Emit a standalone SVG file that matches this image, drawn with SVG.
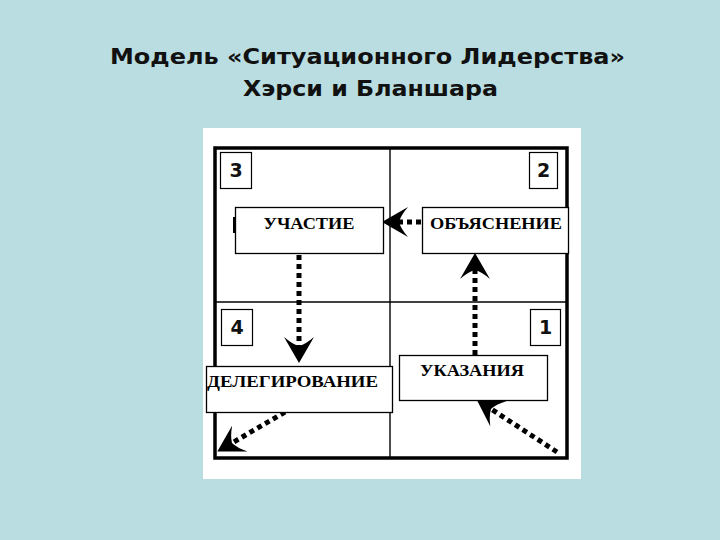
<svg xmlns="http://www.w3.org/2000/svg" width="720" height="540" viewBox="0 0 720 540">
<style>
.title{font-family:"DejaVu Sans","Liberation Sans",sans-serif;font-weight:bold;font-size:21px;fill:#111;text-anchor:middle}
.box{fill:#fff;stroke:#000;stroke-width:1.3}
.num{fill:#fff;stroke:#000;stroke-width:1.2}
.numt{font-family:"DejaVu Sans","Liberation Sans",sans-serif;font-weight:bold;font-size:19px;fill:#111;text-anchor:middle}
.lbl{font-family:"Liberation Serif","Times New Roman",serif;font-weight:bold;font-size:17px;fill:#000;text-anchor:middle}
.dot{stroke:#000;stroke-width:5;stroke-dasharray:5 4;fill:none}
.grid{stroke:#000;stroke-width:1.4}
</style>
<defs>
<marker id="ah" viewBox="0 0 26 30" refX="9" refY="15" markerWidth="26" markerHeight="30" markerUnits="userSpaceOnUse" orient="auto">
<path d="M26,15 L0,0 Q7,8 9,15 Q7,22 0,30 Z" fill="#000"/>
</marker>
</defs>
<rect x="0" y="0" width="720" height="540" fill="#b9dde0"/>
<text class="title" x="367.5" y="64" textLength="515" lengthAdjust="spacingAndGlyphs">Модель «Ситуационного Лидерства»</text>
<text class="title" x="370.5" y="96" textLength="255" lengthAdjust="spacingAndGlyphs">Хэрси и Бланшара</text>
<rect x="203" y="128" width="378" height="351" fill="#fff"/>
<g id="frame">
<line class="grid" x1="390" y1="148" x2="390" y2="458"/>
<line class="grid" x1="215" y1="302" x2="567" y2="302"/>
<path d="M215,148 H567 V458 H215 Z" fill="none" stroke="#000" stroke-width="3.5"/>
</g>
<g id="q3"><rect class="num" x="220.5" y="152.5" width="31" height="36"/><text class="numt" x="236" y="177">3</text></g>
<g id="q2"><rect class="num" x="529.5" y="152.5" width="28" height="36"/><text class="numt" x="543.5" y="177">2</text></g>
<g id="q4"><rect class="num" x="221.5" y="309.5" width="31" height="36"/><text class="numt" x="237" y="334">4</text></g>
<g id="q1"><rect class="num" x="530.5" y="309.5" width="30" height="36"/><text class="numt" x="545.5" y="334">1</text></g>
<g id="connectors">
<line class="dot" x1="421" y1="222" x2="399" y2="222" marker-end="url(#ah)"/>
<line class="dot" x1="299" y1="255" x2="299" y2="346" marker-end="url(#ah)"/>
<line class="dot" x1="475" y1="355" x2="475" y2="270" marker-end="url(#ah)"/>
<line class="dot" x1="557" y1="452" x2="491" y2="409" marker-end="url(#ah)"/>
<line class="dot" x1="285" y1="412" x2="232" y2="443" marker-end="url(#ah)"/>
</g>
<g id="uchastie">
<rect x="233" y="217" width="4" height="16" fill="#000"/>
<rect class="box" x="235.5" y="207.5" width="148" height="46"/>
<text class="lbl" x="309" y="229" textLength="91" lengthAdjust="spacingAndGlyphs">УЧАСТИЕ</text>
</g>
<g id="obyasnenie">
<rect class="box" x="422.5" y="207.5" width="146" height="46"/>
<text class="lbl" x="496" y="229" textLength="132" lengthAdjust="spacingAndGlyphs">ОБЪЯСНЕНИЕ</text>
</g>
<g id="delegirovanie">
<rect class="box" x="206.5" y="366.5" width="186" height="46"/>
<text class="lbl" x="292.5" y="387" textLength="171" lengthAdjust="spacingAndGlyphs">ДЕЛЕГИРОВАНИЕ</text>
</g>
<g id="ukazaniya">
<rect class="box" x="399.5" y="355.5" width="148" height="45"/>
<text class="lbl" x="472" y="376" textLength="104" lengthAdjust="spacingAndGlyphs">УКАЗАНИЯ</text>
</g>
</svg>
